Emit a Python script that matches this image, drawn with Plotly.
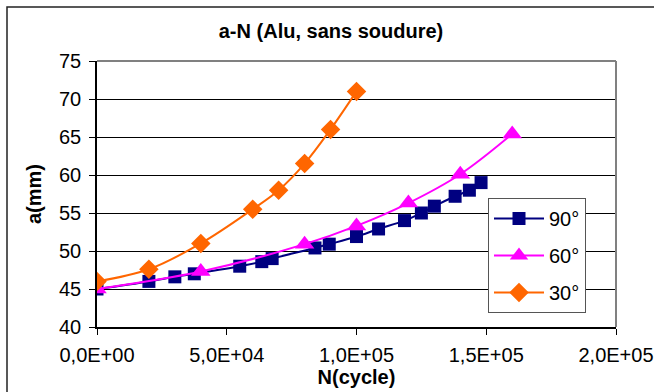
import plotly.graph_objects as go

# Data
n_90 = [0, 20000, 30000, 37500, 55000, 63500, 67500, 84000, 89500, 100000,
        108500, 118500, 125000, 130000, 138000, 143500, 148000]
a_90 = [45, 46, 46.6, 47, 48, 48.6, 49, 50.4, 50.9, 51.9,
        52.9, 54, 55, 55.9, 57.2, 58, 59]

n_60 = [0, 40000, 80000, 100000, 120000, 140000, 160000]
a_60 = [45, 47.3, 50.9, 53.3, 56.3, 60.1, 65.4]

n_30 = [0, 20000, 40000, 60000, 70000, 80000, 90000, 100000]
a_30 = [46, 47.6, 51, 55.5, 58, 61.5, 66, 71]

x_tickvals = [0, 50000, 100000, 150000, 200000]
x_ticktext = ["0,0E+00", "5,0E+04", "1,0E+05", "1,5E+05", "2,0E+05"]
y_tickvals = [40, 45, 50, 55, 60, 65, 70, 75]

W, H = 654, 392
L, R, T, B = 97, 38, 61, 65
pw, ph = W - L - R, H - T - B

FONT = "Liberation Sans, Arial, sans-serif"

fig = go.Figure()
fig.add_trace(go.Scatter(x=n_90, y=a_90, name="90°", mode="lines+markers",
                         legendgroup="a",
                         line=dict(color="#000080", width=2, shape="spline"),
                         marker=dict(symbol="square", size=13, color="#000080")))
fig.add_trace(go.Scatter(x=n_60, y=a_60, name="60°", mode="lines+markers",
                         legendgroup="b",
                         line=dict(color="#FF00FF", width=2, shape="spline"),
                         marker=dict(symbol="triangle-up", size=17, color="#FF00FF")))
fig.add_trace(go.Scatter(x=n_30, y=a_30, name="30°", mode="lines+markers",
                         legendgroup="c",
                         line=dict(color="#FF6600", width=2, shape="spline"),
                         marker=dict(symbol="diamond", size=15, color="#FF6600")))

def px_x(p):
    return (p - L) / pw

def px_y(p):
    return (H - B - p) / ph

shapes = [
    # outer chart border
    dict(type="rect", xref="paper", yref="paper",
         x0=px_x(7), x1=px_x(660), y0=px_y(400), y1=px_y(7),
         line=dict(color="#222222", width=1.5)),
    # plot area top & right (gray)
    dict(type="line", xref="paper", yref="paper", x0=0, x1=1, y0=1, y1=1,
         line=dict(color="#808080", width=2)),
    dict(type="line", xref="paper", yref="paper", x0=1, x1=1, y0=0, y1=1,
         line=dict(color="#808080", width=2)),
]

fig.update_layout(
    width=W, height=H,
    margin=dict(l=L, r=R, t=T, b=B, autoexpand=False),
    paper_bgcolor="white", plot_bgcolor="white",
    font=dict(family=FONT, color="black", size=20),
    title=dict(text="<b>a-N (Alu, sans soudure)</b>", x=331 / W, xanchor="center",
               xref="container", yref="container", y=1 - 31 / H, yanchor="middle",
               font=dict(size=20, family=FONT, color="black")),
    xaxis=dict(range=[0, 200000], tickvals=x_tickvals, ticktext=x_ticktext,
               automargin=False,
               showgrid=False, zeroline=False, showline=True, linecolor="black",
               linewidth=1.5, ticks="outside", ticklen=6, tickcolor="black",
               ticklabelstandoff=3,
               tickfont=dict(size=20, family=FONT, color="black"),
               title=dict(text="<b>N(cycle)</b>", standoff=2,
                          font=dict(size=20, family=FONT, color="black"))),
    yaxis=dict(range=[40, 75], tickvals=y_tickvals, showgrid=True,
               automargin=False,
               gridcolor="black", gridwidth=1, zeroline=False, showline=True,
               linecolor="black", linewidth=1.5, ticks="outside", ticklen=6,
               tickcolor="black", ticklabelstandoff=4,
               tickfont=dict(size=20, family=FONT, color="black"),
               title=dict(text="<b>a(mm)</b>", standoff=12,
                          font=dict(size=20, family=FONT, color="black"))),
    legend=dict(x=px_x(488), y=px_y(198), xanchor="left", yanchor="top",
                bgcolor="white", bordercolor="#555555", borderwidth=1,
                font=dict(size=20, family=FONT, color="black"),
                itemwidth=50, tracegroupgap=8),
    shapes=shapes,
    showlegend=True,
)

fig.write_html("out.html",
               config={"displayModeBar": False},
               post_script="document.body.style.margin='0';document.body.style.padding='0';")
